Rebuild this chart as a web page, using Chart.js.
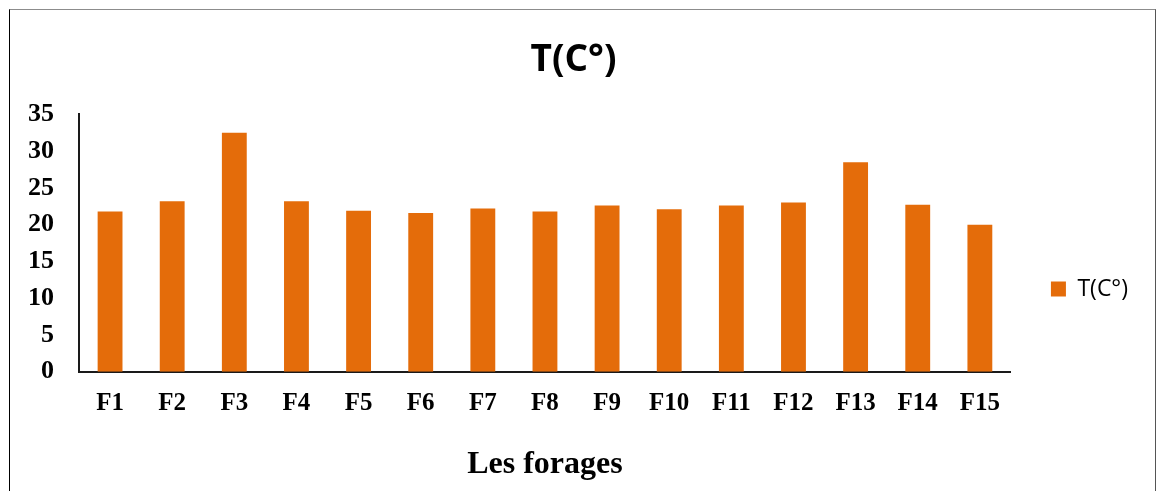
<!DOCTYPE html>
<html>
<head>
<meta charset="utf-8">
<script src="https://cdn.jsdelivr.net/npm/chart.js@4/dist/chart.umd.min.js"></script>
<style>
  html, body { margin: 0; padding: 0; background: #fff; }
  #wrap { position: relative; width: 1157px; height: 491px; overflow: hidden; }
  #chart { position: absolute; left: 0; top: 0; }
  #frame {
    position: absolute; left: 9px; top: 9px; width: 1145px; height: 500px;
    border-left: 1px solid #000; border-top: 1px solid #8c8c8c; border-right: 1px solid #555;
    pointer-events: none;
  }
</style>
</head>
<body>
<div id="wrap">
  <canvas id="chart" width="1157" height="491"></canvas>
  <div id="frame"></div>
</div>
<script>
// Well sites and measured water temperature
const categories = ['F1', 'F2', 'F3', 'F4', 'F5', 'F6', 'F7', 'F8', 'F9', 'F10', 'F11', 'F12', 'F13', 'F14', 'F15'];
const temperatures = [21.8, 23.2, 32.5, 23.2, 21.9, 21.6, 22.2, 21.8, 22.6, 22.1, 22.6, 23.0, 28.5, 22.7, 20.0];
const seriesLabel = 'T(C°)';
const yMin = 0;
const yMax = 35;
const yStep = 5;

const barColor = '#E46C0A';
const serif = '"Liberation Serif", "Times New Roman", serif';
const sans = '"Open Sans", "Noto Sans", sans-serif';

new Chart(document.getElementById('chart'), {
  type: 'bar',
  data: {
    labels: categories,
    datasets: [{
      label: seriesLabel,
      data: temperatures,
      backgroundColor: barColor,
      borderWidth: 0,
      categoryPercentage: 1.0,
      barPercentage: 0.4
    }]
  },
  options: {
    responsive: false,
    devicePixelRatio: 1,
    animation: false,
    layout: { padding: { top: 87, left: 9, right: 19, bottom: 0 } },
    plugins: {
      title: {
        display: true,
        text: seriesLabel,
        color: '#000',
        font: { family: sans, size: 37, weight: 'bold', lineHeight: 1.2 },
        padding: { top: -49, bottom: 32 }
      },
      legend: {
        display: true,
        position: 'right',
        fullSize: true,
        labels: {
          color: '#000',
          boxWidth: 15,
          boxHeight: 15,
          padding: 40,
          font: { family: sans, size: 23 }
        }
      },
      tooltip: { enabled: false }
    },
    scales: {
      x: {
        offset: true,
        grid: { display: false, drawTicks: false },
        border: { display: true, color: '#1a1a1a', width: 2 },
        ticks: {
          color: '#000',
          padding: 17,
          font: { family: serif, size: 25, weight: 'bold' }
        },
        title: {
          display: true,
          text: 'Les forages',
          color: '#000',
          font: { family: serif, size: 32, weight: 'bold', lineHeight: 1.2 },
          padding: { top: 0, bottom: 7 }
        },
        afterFit: (scale) => { scale.height = 119.3; }
      },
      y: {
        min: yMin,
        max: yMax,
        grid: { display: false, drawTicks: false },
        border: { display: true, color: '#1a1a1a', width: 2 },
        ticks: {
          stepSize: yStep,
          color: '#000',
          padding: 25,
          font: { family: serif, size: 26, weight: 'bold' }
        },
        afterFit: (scale) => { scale.width = 70; }
      }
    }
  }
});
</script>
</body>
</html>
